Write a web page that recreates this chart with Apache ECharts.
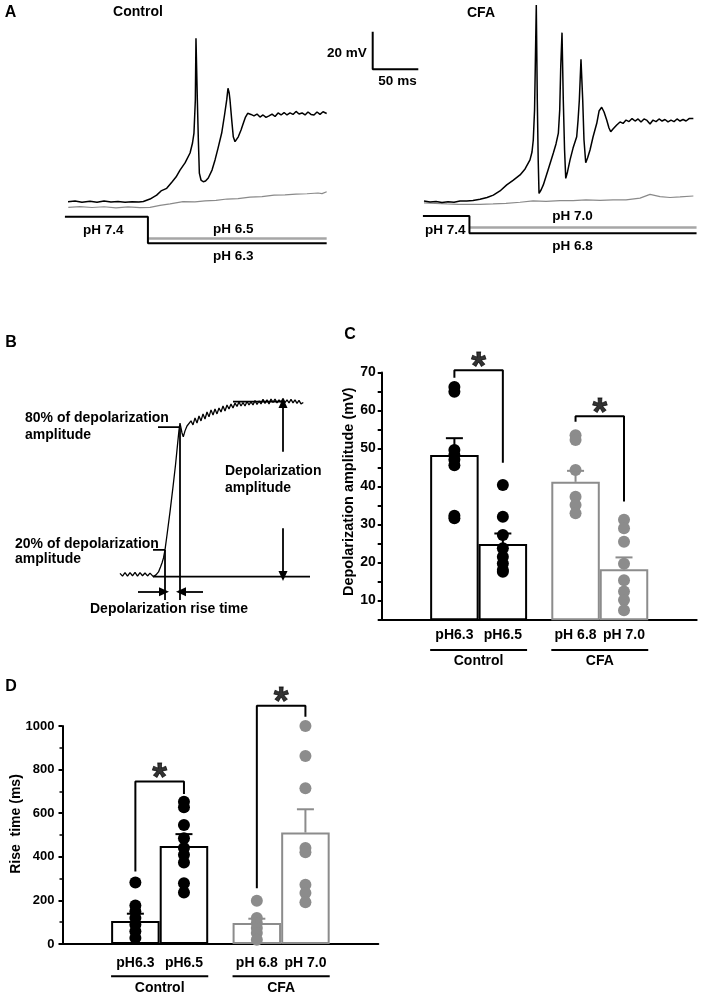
<!DOCTYPE html>
<html>
<head>
<meta charset="utf-8">
<script src="https://cdn.jsdelivr.net/npm/echarts@6/dist/echarts.min.js"></script>
<style>
  html, body { margin: 0; padding: 0; background: #fff; }
  #chart { width: 702px; height: 995px; }
</style>
</head>
<body>
<div id="chart"></div>
<script>
const FONT = '"Liberation Sans", Arial, Helvetica, sans-serif';
const BLACK = '#000';
const GREY = '#8c8c8c';

// Panel A: membrane potential, [time ms, mV]
const ctrlAcid = [[4.4,-59.5],[12.1,-59.1],[19.7,-59.8],[28.5,-59.3],[36.2,-59.8],[43.9,-59.1],[51.5,-59.7],[59.2,-59.4],[66.9,-59.8],[74.6,-59.6],[82.2,-59.7],[87.0,-59.4],[94.3,-58.1],[101.6,-56.0],[106.4,-53.8],[112.6,-52.4],[118.4,-49.0],[122.8,-46.4],[127.2,-42.7],[132.7,-38.9],[138.2,-33.6],[140.9,-28.3],[142.5,-23.0],[144.0,-5.4],[144.7,27.4],[146.2,-5.4],[147.3,-26.7],[148.4,-44.3],[150.2,-48.0],[152.7,-48.9],[155.2,-48.5],[158.2,-46.9],[162.3,-42.7],[165.6,-37.3],[168.9,-31.0],[172.9,-23.0],[176.0,-13.4],[178.4,-5.4],[179.8,0.8],[181.1,-1.7],[182.0,-5.4],[183.9,-16.1],[185.6,-25.0],[187.5,-27.6],[189.4,-26.7],[191.1,-25.0],[194.1,-21.4],[196.6,-17.8],[199.0,-14.5],[201.4,-12.5],[205.0,-13.1],[208.3,-13.9],[211.6,-12.9],[214.9,-14.5],[218.2,-13.4],[221.5,-14.7],[224.8,-13.9],[228.1,-12.9],[231.4,-14.2],[234.7,-12.3],[238.0,-13.4],[241.3,-12.1],[244.5,-13.4],[247.8,-12.3],[251.1,-13.1],[254.4,-11.5],[257.7,-12.9],[261.0,-12.3],[264.3,-13.4],[267.5,-11.8],[270.8,-13.1],[274.1,-13.4],[277.4,-11.8],[280.7,-13.1],[284.0,-11.7],[288.0,-12.6]];
const ctrlMild = [[4.7,-62.5],[17.5,-62.1],[30.7,-62.6],[43.9,-62.2],[57.0,-62.8],[70.2,-62.3],[83.3,-62.7],[94.3,-62.5],[105.3,-61.5],[116.3,-60.7],[130.5,-59.5],[143.6,-59.6],[154.6,-59.1],[166.7,-58.8],[178.7,-58.1],[190.8,-57.9],[203.9,-57.1],[217.1,-56.8],[230.3,-56.0],[242.3,-55.9],[254.4,-55.5],[266.4,-55.3],[278.5,-54.9],[282.9,-55.2],[288.0,-54.2]];
const cfaAcid = [[2.2,-59.1],[8.8,-59.7],[15.4,-59.4],[21.9,-59.9],[28.5,-59.6],[35.1,-59.8],[41.7,-59.1],[49.0,-59.1],[55.9,-58.9],[63.6,-58.2],[71.3,-57.3],[78.2,-56.0],[85.5,-53.8],[92.9,-50.6],[99.8,-48.2],[107.5,-45.3],[113.0,-42.1],[118.4,-37.3],[120.6,-33.1],[122.0,-26.7],[123.4,-10.7],[124.2,12.3],[125.3,45.1],[126.4,-5.4],[127.4,-37.3],[128.3,-55.1],[130.5,-53.3],[133.0,-50.6],[138.2,-42.7],[144.0,-33.6],[146.9,-28.8],[149.5,-23.0],[151.0,-10.7],[152.1,12.3],[153.5,30.4],[154.9,-5.4],[156.3,-32.0],[157.6,-47.1],[159.5,-43.7],[162.3,-37.3],[165.6,-31.0],[169.6,-25.0],[171.1,-16.1],[172.5,-5.4],[174.3,16.2],[176.2,-5.4],[177.6,-26.7],[179.5,-38.8],[181.5,-36.3],[184.2,-32.0],[187.5,-25.1],[191.6,-17.8],[194.1,-11.3],[197.0,-9.3],[199.6,-11.8],[202.5,-16.1],[205.0,-20.3],[206.9,-22.3],[209.4,-20.9],[213.5,-18.7],[217.1,-17.1],[220.4,-17.9],[223.7,-16.1],[227.0,-16.9],[230.3,-15.3],[233.6,-16.6],[236.9,-15.5],[240.1,-17.1],[243.4,-15.5],[246.7,-16.3],[250.0,-18.2],[253.3,-16.1],[256.6,-16.9],[259.9,-15.5],[263.2,-16.6],[266.4,-15.8],[269.7,-17.1],[273.0,-16.1],[276.3,-16.9],[279.6,-15.5],[282.9,-16.6],[286.2,-15.8],[289.5,-16.6],[292.8,-15.3],[297.5,-15.2]];
const cfaMild = [[2.2,-60.1],[14.3,-60.4],[27.4,-60.7],[39.5,-60.9],[49.0,-60.9],[63.6,-60.9],[77.9,-60.7],[92.1,-60.4],[107.5,-59.8],[121.7,-59.1],[136.0,-59.4],[151.3,-58.9],[165.6,-59.0],[179.8,-58.6],[195.2,-58.8],[209.4,-58.5],[223.7,-58.5],[239.0,-57.6],[250.0,-55.6],[261.0,-56.8],[271.9,-57.3],[282.9,-57.0],[297.5,-56.5]];

// pH application protocol, [time ms, pH]
const ctrlPhStep = [[1,7.4],[92,7.4],[92,6.3],[288,6.3]];
const ctrlPhMild = [[92,6.5],[288,6.5]];
const cfaPhStep = [[1,7.4],[52,7.4],[52,6.8],[301,6.8]];
const cfaPhMild = [[52,7.0],[301,7.0]];
// scale bar: 20 mV, 50 ms
const scaleBar = [[0,20],[0,0],[50,0]];

// Panel B: schematic trace, [time, % of depolarization amplitude]
const bTrace = [[0,1.9],[2.5,0.3],[5,2.3],[7.5,0.3],[10,2.3],[12.5,0.5],[15,2.5],[17.5,0.3],[20,2.3],[22.5,0.5],[25,2.1],[27.5,0.4],[30,2.0],[33.3,0],[36,1.0],[38.5,2.7],[40.5,5.5],[42,7.8],[43.5,10.7],[45,15.3],[47,23.8],[50,37.0],[53,51.3],[55.5,63.8],[57.5,75.3],[59,83.8],[60,87.7],[61,86.7],[62,82.1],[63.3,79.9],[65,83.3],[67,86.1],[69,85.0],[71,89.0],[73,86.7],[75,90.7],[77,87.8],[79,91.8],[81,89.0],[83,93.0],[85,90.1],[87,94.1],[89,91.3],[91,95.3],[93,92.4],[95,95.8],[97,93.0],[99,96.4],[101,94.1],[103,97.5],[105,94.7],[107,98.1],[109,95.8],[111,98.6],[113,96.4],[115,99.2],[117,97.3],[119,99.8],[121,97.5],[123,99.5],[125,97.5],[127,100.1],[129,98.1],[131,99.8],[133,98.1],[135,100.7],[137,98.4],[139,100.4],[141,98.7],[143,101.3],[145,99.0],[147,101.0],[149,98.7],[151,101.5],[153,99.5],[155,101.5],[157,99.3],[159,101.0],[161,99.8],[163,101.8],[165,99.5],[167,101.0],[169,99.3],[171,101.3],[173,99.3],[175,101.0],[177,99.0],[179,100.7],[181,98.7],[183.3,99.5]];
const bTop = [[113,100],[163,100]];
const b80 = [[38,85.4],[60,85.4]];
const b20 = [[33,15.3],[45,15.3]];
const bBase = [[33,0],[190,0]];
const bT20 = [[45,15.3],[45,-13.3]];
const bT80 = [[60,85.4],[60,-13.3]];
const bArrows = [[[18,-8.6],[44,-8.6]], [[83,-8.6],[61,-8.6]], [[163,71.4],[163,99.3]], [[163,27.7],[163,0.4]]];

// Panels C and D
const barPos = [1.5, 2.5, 4, 5];
const barNames = ['pH6.3', 'pH6.5', 'pH 6.8', 'pH 7.0'];
const groupPos = [2, 4.5];
const groupNames = ['Control', 'CFA'];
const groupSpans = [[1, 3], [3.5, 5.5]];

const cMean = [48.3, 24.8, 41.2, 18.2];
const cSem = [4.4, 2.8, 2.9, 3.1];
const cDots = [
  [66.2, 64.9, 49.6, 48.3, 47.0, 45.6, 32.3, 31.6],
  [40.4, 32.0, 27.2, 23.7, 21.5, 19.7, 18.0, 17.5],
  [53.5, 52.2, 44.3, 37.3, 35.1, 32.9],
  [31.2, 29.0, 25.4, 19.6, 15.3, 12.3, 10.1, 7.4]
];
const cBrackets = [[[1.5,68.6],[1.5,70.6],[2.5,70.6],[2.5,46.2]], [[4,57.0],[4,58.5],[5,58.5],[5,36.0]]];
const cUnderY = -3.1;

const dMean = [106, 450, 96, 511];
const dSem = [33, 54, 20, 107];
const dDots = [
  [282, 177, 149, 119, 88, 58, 27],
  [653, 627, 546, 485, 440, 409, 374, 279, 236],
  [198, 119, 96, 73, 50, 20],
  [1000, 862, 714, 440, 421, 272, 234, 191]
];
const dBrackets = [[[1.5,333],[1.5,745],[2.5,745],[2.5,688]], [[4,256],[4,1093],[5,1093],[5,1042]]];
const dUnderY = -148;

const barColor = k => (k < 2 ? BLACK : GREY);

function line(i, data, color, width, extra) {
  return Object.assign({
    type: 'line', xAxisIndex: i, yAxisIndex: i, data: data,
    symbol: 'none', clip: false, silent: true, z: 3,
    lineStyle: { color: color, width: width }
  }, extra || {});
}

function hiddenAxis(i, min, max) {
  return { gridIndex: i, type: 'value', min: min, max: max, show: false };
}

function labelAt(pos, names) {
  return function (v) {
    const k = pos.findIndex(p => Math.abs(p - v) < 1e-6);
    return k < 0 ? '' : names[k];
  };
}

function barPanel(i, mean, sem, dots, brackets, underY) {
  const out = [];
  out.push({
    type: 'bar', xAxisIndex: i, yAxisIndex: i, barWidth: 48.5, z: 2, silent: true,
    data: barPos.map((p, k) => ({
      value: [p, mean[k]],
      itemStyle: { color: 'rgba(255,255,255,0)', borderColor: barColor(k), borderWidth: 2 }
    }))
  });
  const pts = [];
  dots.forEach((arr, k) => arr.forEach(v => pts.push({ value: [barPos[k], v], itemStyle: { color: barColor(k), opacity: 1 } })));
  out.push({ type: 'scatter', xAxisIndex: i, yAxisIndex: i, symbolSize: 12, z: 4, silent: true, clip: false,
    itemStyle: { opacity: 1 }, data: pts });
  out.push({
    type: 'custom', xAxisIndex: i, yAxisIndex: i, z: 5, silent: true,
    data: barPos.map((p, k) => ({ value: [p, mean[k], sem[k]], itemStyle: { color: barColor(k) } })),
    renderItem: function (params, api) {
      const base = api.coord([api.value(0), api.value(1)]);
      const top = api.coord([api.value(0), api.value(1) + api.value(2)]);
      const c = api.visual('color');
      return {
        type: 'group', children: [
          { type: 'line', shape: { x1: base[0], y1: base[1], x2: top[0], y2: top[1] }, style: { stroke: c, lineWidth: 2 } },
          { type: 'line', shape: { x1: top[0] - 8.5, y1: top[1], x2: top[0] + 8.5, y2: top[1] }, style: { stroke: c, lineWidth: 2 } }
        ]
      };
    }
  });
  brackets.forEach(b => out.push(line(i, b, BLACK, 2)));
  out.push({
    type: 'scatter', xAxisIndex: i, yAxisIndex: i, symbolSize: 0, z: 6, silent: true, clip: false,
    data: brackets.map(b => [(b[1][0] + b[2][0]) / 2, b[1][1]]),
    label: { show: true, position: 'inside', offset: [0, -2], formatter: '*', fontSize: 38, fontWeight: 'bold',
      fontFamily: FONT, color: BLACK, textBorderColor: BLACK, textBorderWidth: 0.8 }
  });
  groupSpans.forEach(s => out.push(line(i, [[s[0], underY], [s[1], underY]], BLACK, 2)));
  return out;
}

function txt(x, y, text, style, rotation) {
  return {
    type: 'text', x: x, y: y, rotation: rotation || 0, silent: true, z: 10,
    style: Object.assign({
      text: text, fontFamily: FONT, fontWeight: 'bold', fontSize: 14, fill: BLACK,
      align: 'center', verticalAlign: 'middle'
    }, style || {})
  };
}

const tickFont = { fontFamily: FONT, fontWeight: 'bold', color: BLACK };

const option = {
  animation: false,
  backgroundColor: '#fff',
  grid: [
    { left: 64, top: 5.2, width: 264.5, height: 206.8 },
    { left: 422, top: 5.2, width: 278.2, height: 206.8 },
    { left: 64, top: 216.7, width: 264.5, height: 26.6 },
    { left: 422, top: 216, width: 278.2, height: 17.3 },
    { left: 372.7, top: 31.7, width: 45.6, height: 37.6 },
    { left: 120, top: 392.9, width: 190, height: 210 },
    { left: 381.7, top: 372.5, width: 315, height: 246.8 },
    { left: 62.5, top: 726, width: 315.8, height: 218.3 }
  ],
  xAxis: [
    hiddenAxis(0, 0, 290), hiddenAxis(1, 0, 305), hiddenAxis(2, 0, 290), hiddenAxis(3, 0, 305),
    hiddenAxis(4, 0, 50), hiddenAxis(5, 0, 190),
    {
      gridIndex: 6, type: 'value', min: 0, max: 6.5, interval: 0.5, splitLine: { show: false },
      axisLine: { lineStyle: { color: BLACK, width: 2 } }, axisTick: { show: false },
      axisLabel: Object.assign({ fontSize: 14, margin: 9, formatter: labelAt(barPos, barNames) }, tickFont)
    },
    {
      gridIndex: 7, type: 'value', min: 0, max: 6.5, interval: 0.5, splitLine: { show: false },
      axisLine: { lineStyle: { color: BLACK, width: 2 } }, axisTick: { show: false },
      axisLabel: Object.assign({ fontSize: 14, margin: 12, formatter: labelAt(barPos, barNames) }, tickFont)
    },
    {
      gridIndex: 6, type: 'value', min: 0, max: 6.5, interval: 0.5, position: 'bottom', offset: 27,
      splitLine: { show: false }, axisLine: { show: false }, axisTick: { show: false },
      axisLabel: Object.assign({ fontSize: 14, margin: 8, formatter: labelAt(groupPos, groupNames) }, tickFont)
    },
    {
      gridIndex: 7, type: 'value', min: 0, max: 6.5, interval: 0.5, position: 'bottom', offset: 29,
      splitLine: { show: false }, axisLine: { show: false }, axisTick: { show: false },
      axisLabel: Object.assign({ fontSize: 14, margin: 8, formatter: labelAt(groupPos, groupNames) }, tickFont)
    }
  ],
  yAxis: [
    hiddenAxis(0, -65, 45), hiddenAxis(1, -65, 45), hiddenAxis(2, 6.3, 7.4), hiddenAxis(3, 6.8, 7.4),
    hiddenAxis(4, 0, 20), hiddenAxis(5, -15, 105),
    {
      gridIndex: 6, type: 'value', min: 5, max: 70, interval: 5, splitLine: { show: false },
      axisLine: { show: true, lineStyle: { color: BLACK, width: 2 } },
      axisTick: { show: true, length: 4, lineStyle: { color: BLACK, width: 2 } },
      axisLabel: Object.assign({ fontSize: 14, margin: 6, formatter: v => (v % 10 === 0 ? String(v) : '') }, tickFont)
    },
    {
      gridIndex: 7, type: 'value', min: 0, max: 1000, interval: 200, splitLine: { show: false },
      axisLine: { show: true, lineStyle: { color: BLACK, width: 2 } },
      axisTick: { show: true, length: 4, lineStyle: { color: BLACK, width: 2 } },
      minorTick: { show: true, splitNumber: 2, length: 3, lineStyle: { color: BLACK, width: 1.5 } },
      axisLabel: Object.assign({ fontSize: 13, margin: 8, formatter: v => String(v) }, tickFont)
    }
  ],
  series: [
    line(0, ctrlMild, '#8a8a8a', 1.2),
    line(0, ctrlAcid, BLACK, 1.5),
    line(1, cfaMild, '#8a8a8a', 1.2),
    line(1, cfaAcid, BLACK, 1.5),
    line(2, ctrlPhMild, '#a6a6a6', 2.5),
    line(2, ctrlPhStep, BLACK, 2),
    line(3, cfaPhMild, '#a6a6a6', 2.5),
    line(3, cfaPhStep, BLACK, 2),
    line(4, scaleBar, BLACK, 2),
    line(5, bTrace, BLACK, 1.3, {
      markLine: {
        silent: true, symbol: ['none', 'triangle'], symbolSize: [9, 10],
        lineStyle: { color: BLACK, width: 1.8, type: 'solid' }, label: { show: false },
        data: bArrows.map(a => [{ coord: a[0] }, { coord: a[1] }])
      }
    }),
    line(5, bTop, BLACK, 1.8),
    line(5, b80, BLACK, 1.8),
    line(5, b20, BLACK, 1.8),
    line(5, bBase, BLACK, 1.8),
    line(5, bT20, BLACK, 1.8),
    line(5, bT80, BLACK, 1.8)
  ].concat(barPanel(6, cMean, cSem, cDots, cBrackets, cUnderY))
   .concat(barPanel(7, dMean, dSem, dDots, dBrackets, dUnderY)),
  graphic: [
    txt(10.5, 13, 'A', { fontSize: 16 }),
    txt(138, 11.7, 'Control'),
    txt(481, 13, 'CFA'),
    txt(366.7, 53.3, '20 mV', { fontSize: 13.5, align: 'right' }),
    txt(397.5, 81.7, '50 ms', { fontSize: 13.5 }),
    txt(103.3, 230, 'pH 7.4', { fontSize: 13.5 }),
    txt(233.3, 229.3, 'pH 6.5', { fontSize: 13.5 }),
    txt(233.3, 256.7, 'pH 6.3', { fontSize: 13.5 }),
    txt(572.5, 216.7, 'pH 7.0', { fontSize: 13.5 }),
    txt(445.3, 230, 'pH 7.4', { fontSize: 13.5 }),
    txt(572.5, 246.7, 'pH 6.8', { fontSize: 13.5 }),
    txt(11, 342.5, 'B', { fontSize: 16 }),
    txt(25, 418.3, '80% of depolarization', { align: 'left' }),
    txt(25, 435, 'amplitude', { align: 'left' }),
    txt(225, 470.8, 'Depolarization', { align: 'left' }),
    txt(225, 488, 'amplitude', { align: 'left' }),
    txt(15, 544, '20% of depolarization', { align: 'left' }),
    txt(15, 559, 'amplitude', { align: 'left' }),
    txt(90, 609, 'Depolarization rise time', { align: 'left' }),
    txt(350, 335, 'C', { fontSize: 16 }),
    txt(349, 491.7, 'Depolarization amplitude (mV)', { fontSize: 14.5 }, Math.PI / 2),
    txt(11, 686.7, 'D', { fontSize: 16 }),
    txt(16, 824, 'Rise  time (ms)', { fontSize: 14 }, Math.PI / 2)
  ]
};

const chart = echarts.init(document.getElementById('chart'), null, { renderer: 'canvas' });
chart.setOption(option);
</script>
</body>
</html>
